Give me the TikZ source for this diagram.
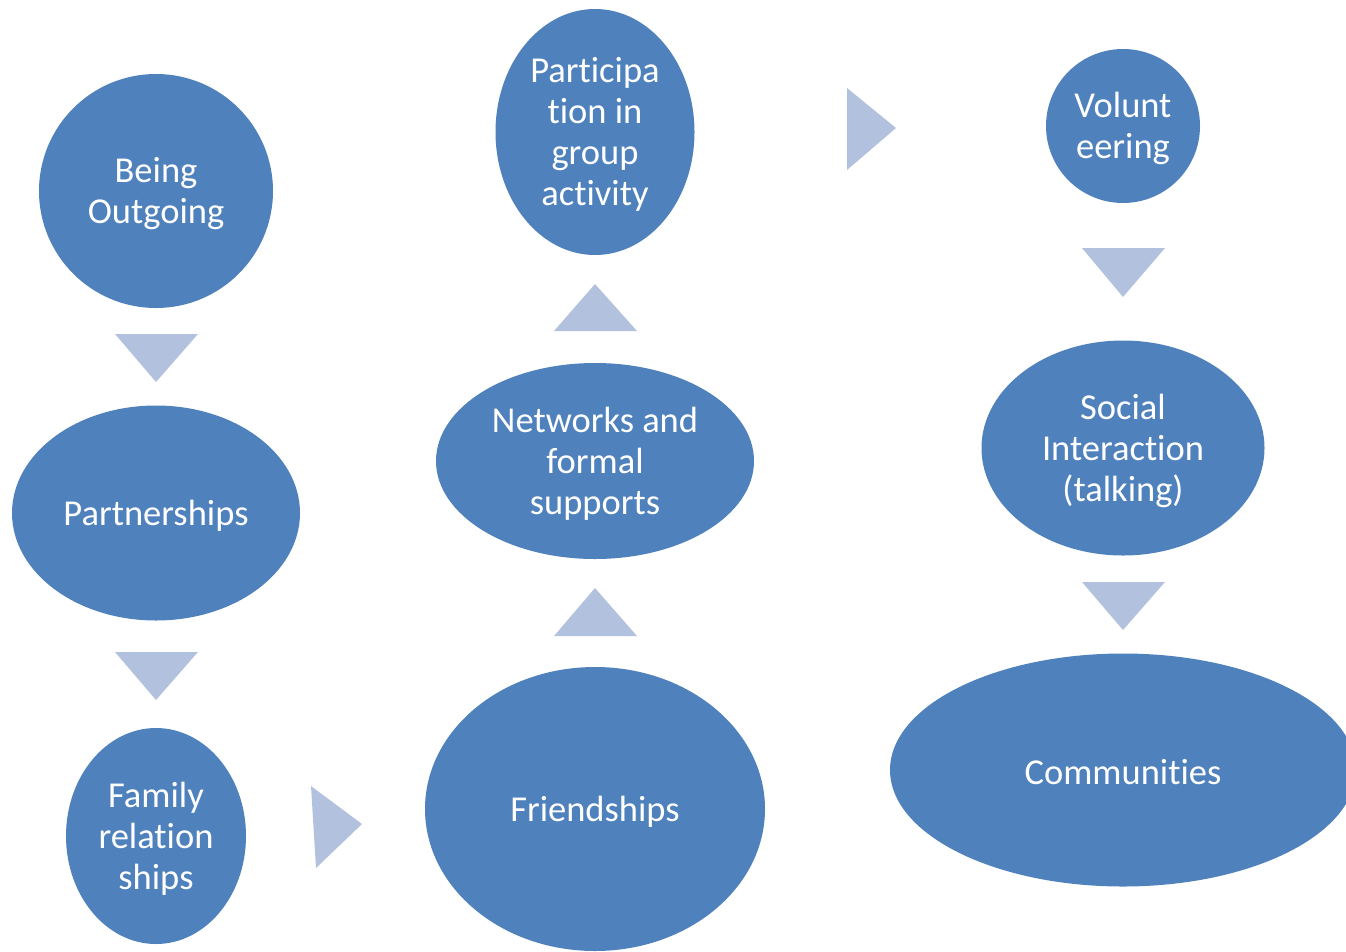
\documentclass[tikz,border=0pt]{standalone}
\usepackage{fontspec}
\setmainfont{Carlito}[Ligatures={NoCommon}]
\usetikzlibrary{shapes.geometric}
\definecolor{bubble}{HTML}{4F81BD}
\definecolor{pointer}{HTML}{B2C1DE}
\tikzset{
  bubble/.style={ellipse, fill=bubble, draw=none, inner sep=0pt},
  caption/.style={text=white, align=center, yshift=-2.5pt,
    font=\fontsize{36.5}{41}\selectfont},
  pointer/.style={fill=pointer, draw=none}
}
\begin{document}
\begin{tikzpicture}[x=1pt,y=-1pt]
\useasboundingbox (0,0) rectangle (1346,951);
\clip (0,0) rectangle (1346,951);
% first column
\node[bubble, minimum width=234pt, minimum height=234pt,
  label={[caption]center:{Being\\Outgoing}}] (outgoing) at (156,191) {};
\node[bubble, minimum width=288pt, minimum height=215pt,
  label={[caption]center:Partnerships}] (partner) at (156,513) {};
\node[bubble, minimum width=180pt, minimum height=216pt,
  label={[caption]center:{Family\\relation\\ships}}] (family) at (156,836) {};
% second column
\node[bubble, minimum width=340pt, minimum height=284pt,
  label={[caption]center:Friendships}] (friends) at (595,809) {};
\node[bubble, minimum width=318pt, minimum height=196pt,
  label={[caption]center:{Networks and\\formal\\supports}}] (networks) at (595,461) {};
\node[bubble, minimum width=199pt, minimum height=246pt,
  label={[caption]center:{Participa\\tion in\\group\\activity}}] (group) at (595,132) {};
% third column
\node[bubble, minimum width=154pt, minimum height=154pt,
  label={[caption]center:{Volunt\\eering}}] (volunteer) at (1123,126) {};
\node[bubble, minimum width=283pt, minimum height=215pt,
  label={[caption]center:{Social\\Interaction\\(talking)}}] (social) at (1123,448) {};
\node[bubble, minimum width=466pt, minimum height=233pt,
  label={[caption]center:Communities}] (community) at (1123,770) {};
% pointers between the steps
\fill[pointer] (115,334) -- (198,334) -- (156,382) -- cycle;
\fill[pointer] (115,652) -- (198,652) -- (156,700) -- cycle;
\fill[pointer] (311,786) -- (316,868) -- (362,824) -- cycle;
\fill[pointer] (554,636) -- (637,636) -- (595,588) -- cycle;
\fill[pointer] (554,331) -- (637,331) -- (595,284) -- cycle;
\fill[pointer] (847,88) -- (847,170) -- (896,128) -- cycle;
\fill[pointer] (1082,248) -- (1165,248) -- (1123,297) -- cycle;
\fill[pointer] (1082,582) -- (1165,582) -- (1123,630) -- cycle;
\end{tikzpicture}
\end{document}
